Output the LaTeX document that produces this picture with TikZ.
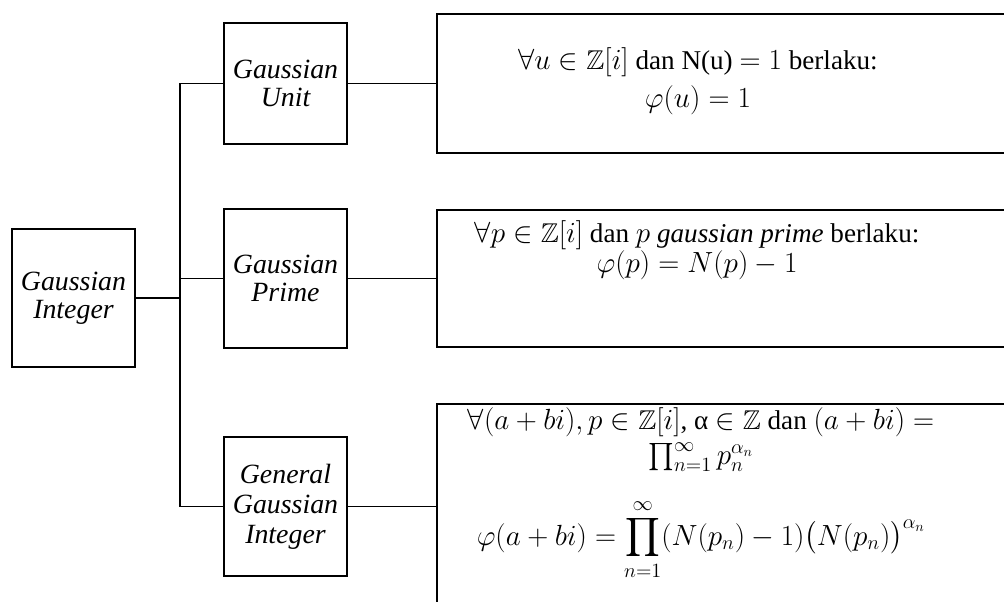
\documentclass[tikz,border=0pt]{standalone}
\usepackage{amsmath,amssymb}
\usepackage{fontspec}
\setmainfont{Liberation Serif}
\usetikzlibrary{positioning}
\tikzset{
  catbox/.style   = {draw, line width=1.6pt, minimum width=3.075cm, align=center,
                     inner sep=0pt, font={\itshape\fontsize{19.8}{#1}\selectfont}},
  catbox/.default = 19.8,
  rulebox/.style  = {draw, line width=1.6pt, minimum width=15.5cm, anchor=west},
  ruletext/.style = {align=center, inner sep=0pt,
                     font={\fontsize{19.3}{#1}\selectfont\lineskiplimit=-100pt}},
  link/.style     = {line width=1.4pt},
}

\begin{document}
\begin{tikzpicture}[x=0.025cm, y=-0.025cm]
  \clip (0,0) rectangle (1004,601);
  \node[catbox, minimum height=3.45cm]  (gint)    at (73.5,298)   {Gaussian\\Integer};
  \node[catbox, minimum height=3.025cm] (unit)    at (285.5,83.5) {Gaussian\\Unit};
  \node[catbox, minimum height=3.475cm] (prime)   at (285.5,278.5) {Gaussian\\Prime};
  \node[catbox=21.3, minimum height=3.475cm] (general) at (285.5,506.5) {General\\Gaussian\\Integer};

  \node[rulebox, minimum height=3.475cm] (ruleunit)    at (436,83.5)  {};
  \node[rulebox, minimum height=3.425cm] (ruleprime)   at (436,278.5) {};
  \node[rulebox, minimum height=5.9cm]   (rulegeneral) at (436,522)   {};

  \node[ruletext=26.9] (unittext) at (698,81)
    {$\forall u \in \mathbb{Z}[i]$ dan N(u) $= 1$ berlaku:\\ $\varphi(u) = 1$};
  \node[ruletext=21.5] (primetext) at (697,250)
    {$\forall p \in \mathbb{Z}[i]$ dan $p$ \textit{gaussian prime} berlaku:\\ $\varphi(p) = N(p) - 1$};
  \node[ruletext=24.5] (generaltext) at (701,494)
    {$\forall (a+bi), p \in \mathbb{Z}[i]$, α $\in \mathbb{Z}$ dan $(a+bi) =$\\
     $\prod_{n=1}^{\infty} p_n^{\alpha_n}$\\[33pt]
     $\displaystyle \varphi(a+bi) = \prod_{n=1}^{\infty} (N(p_n)-1)\bigl(N(p_n)\bigr)^{\alpha_n}$};

  \coordinate (bus) at (180,298);
  \draw[link] (gint.east) -- (bus);
  \draw[link] (unit.west) -| (bus) |- (general.west);
  \draw[link] (bus) |- (prime.west);
  \foreach \n in {unit,prime,general}
    \draw[link] (\n.east) -- (\n.east -| rule\n.west);
\end{tikzpicture}
\end{document}
